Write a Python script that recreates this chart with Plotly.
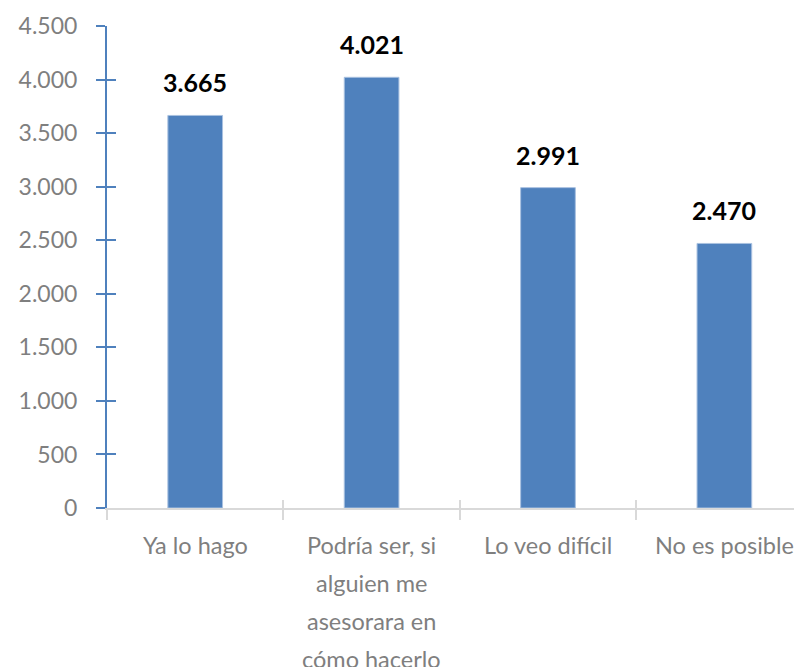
import plotly.graph_objects as go

categories = ["Ya lo hago", "Podría ser, si alguien me asesorara en cómo hacerlo", "Lo veo difícil", "No es posible"]
label_lines = [
    ["Ya lo hago"],
    ["Podría ser, si", "alguien me", "asesorara en", "cómo hacerlo"],
    ["Lo veo difícil"],
    ["No es posible"],
]
values = [3665, 4021, 2991, 2470]
y_ticks = [0, 500, 1000, 1500, 2000, 2500, 3000, 3500, 4000, 4500]

BAR = "#4f81bd"
GRAY = "#7f7f7f"
AXIS_GRAY = "#d9d9d9"
FONT = "Lato, Carlito, Calibri, sans-serif"

fig = go.Figure()
fig.add_trace(go.Bar(
    x=categories, y=values, width=0.31,
    marker=dict(color=BAR, line=dict(color="#a9c1e0", width=1)),
    hoverinfo="skip",
))
# invisible trace to establish overlay axes (ticks crossing the axis lines)
fig.add_trace(go.Scatter(x=categories, y=values, xaxis="x2", yaxis="y2",
                         mode="markers", marker=dict(opacity=0), hoverinfo="skip", showlegend=False))

annotations = []
for c, v in zip(categories, values):
    annotations.append(dict(
        x=c, y=v, xref="x", yref="y", yanchor="bottom", yshift=16,
        text="<b>" + f"{v:,}".replace(",", ".") + "</b>", showarrow=False,
        font=dict(family=FONT, size=25, color="#000000"),
    ))
for c, lines in zip(categories, label_lines):
    for k, line in enumerate(lines):
        annotations.append(dict(
            x=c, y=0, xref="x", yref="paper", yanchor="middle",
            yshift=-(37 + 38 * k), text=line, showarrow=False,
            font=dict(family=FONT, size=23.5, color=GRAY),
        ))

xr = [-0.5, 3.44]
fig.update_layout(
    width=794, height=659,
    margin=dict(l=99, r=0, t=18, b=159),
    paper_bgcolor="white", plot_bgcolor="white",
    separators=",.",
    showlegend=False,
    font=dict(family=FONT, color=GRAY, size=23),
    annotations=annotations,
    xaxis=dict(
        type="category", categoryorder="array", categoryarray=categories,
        range=xr, showgrid=False, zeroline=False,
        showline=True, linecolor=AXIS_GRAY, linewidth=2,
        ticks="outside", tickson="boundaries", ticklen=10, tickwidth=2, tickcolor=AXIS_GRAY,
        showticklabels=False,
    ),
    xaxis2=dict(
        type="category", categoryorder="array", categoryarray=categories,
        overlaying="x", anchor="y", range=xr, showgrid=False, zeroline=False,
        showline=False, ticks="inside", tickson="boundaries", ticklen=8, tickwidth=2,
        tickcolor=AXIS_GRAY, showticklabels=False,
    ),
    yaxis=dict(
        range=[0, 4500], tickvals=y_ticks, tickformat=",d",
        showgrid=False, zeroline=False,
        showline=True, linecolor=BAR, linewidth=2,
        ticks="outside", ticklen=9, tickwidth=2, tickcolor=BAR,
        ticklabelstandoff=14,
        tickfont=dict(family=FONT, size=23, color=GRAY),
    ),
    yaxis2=dict(
        range=[0, 4500], tickvals=y_ticks, overlaying="y", anchor="x",
        showgrid=False, zeroline=False, showline=False,
        ticks="inside", ticklen=9, tickwidth=2, tickcolor=BAR,
        showticklabels=False,
    ),
)

fig.write_html("out.html")
